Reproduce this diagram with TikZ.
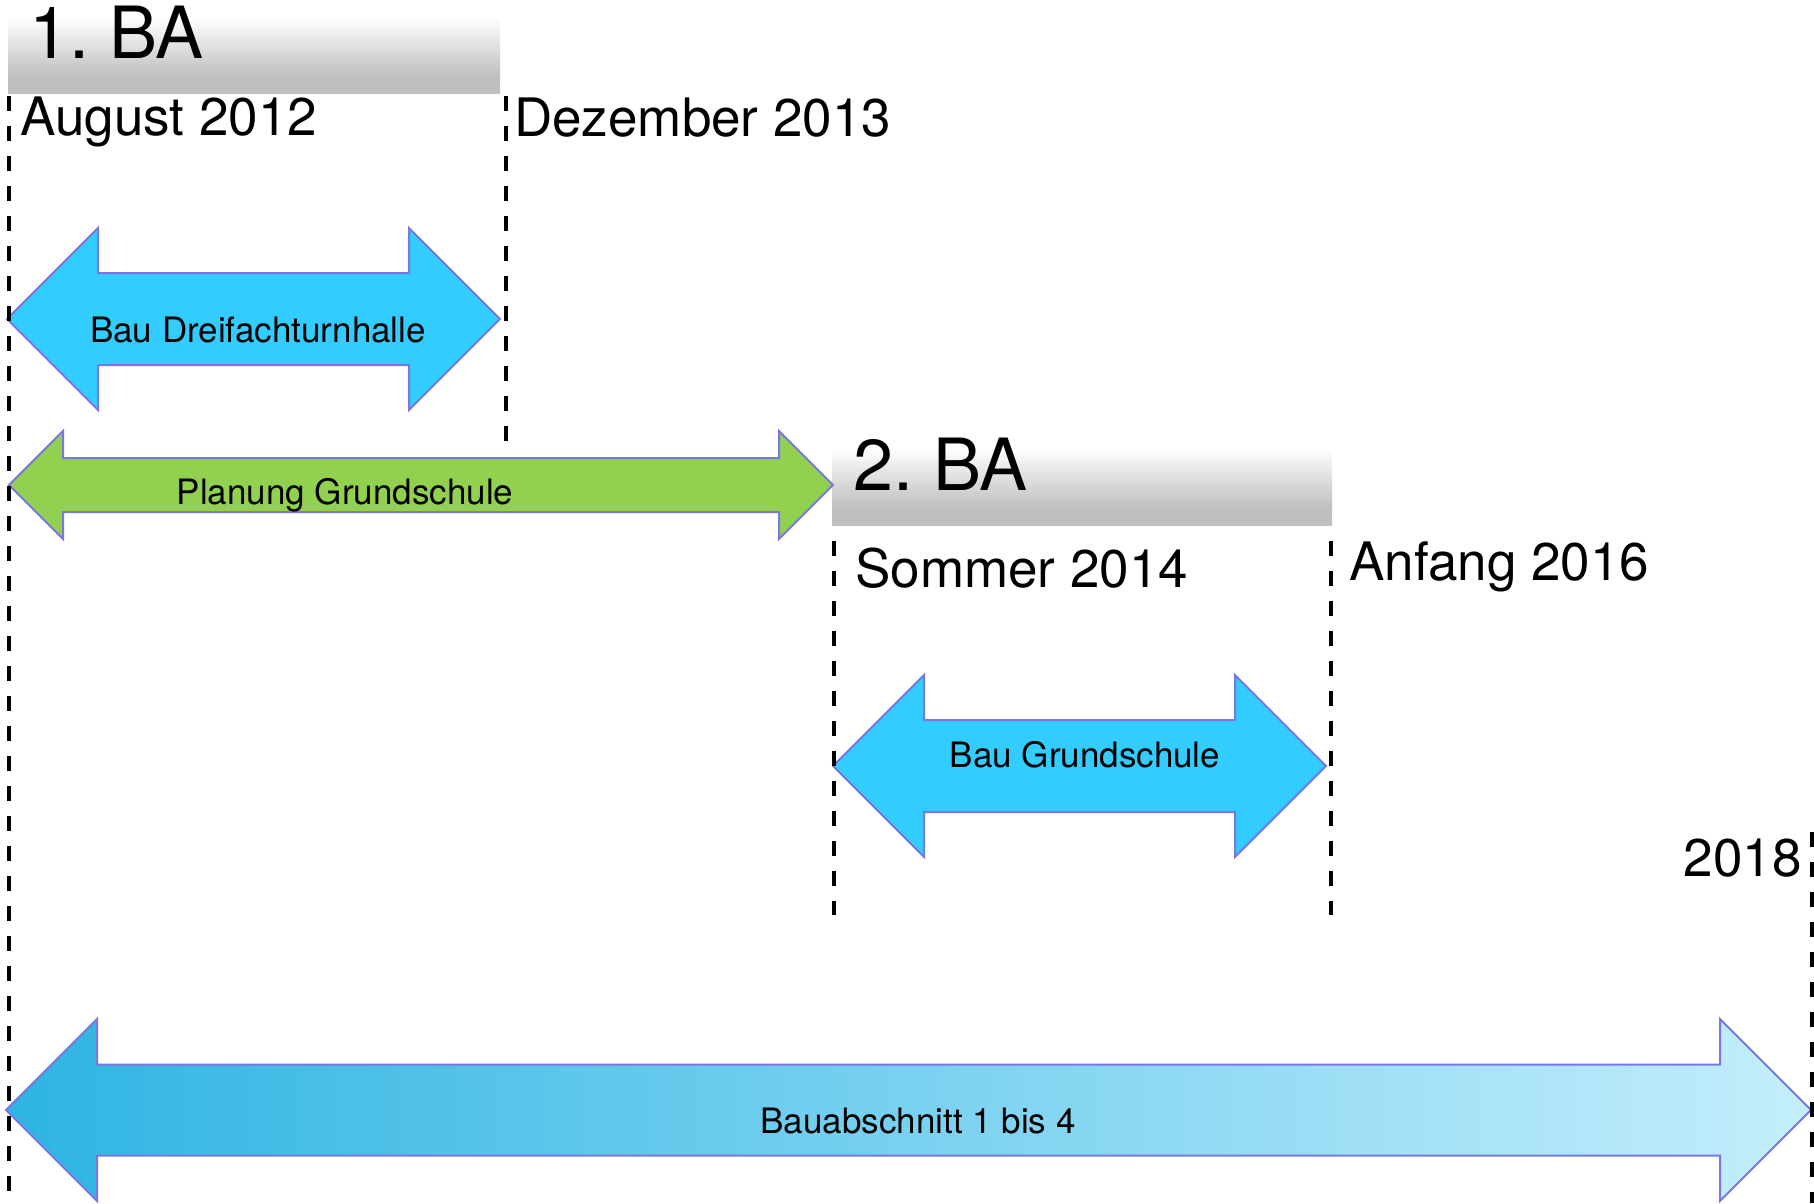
\documentclass[tikz,border=0pt]{standalone}
\usepackage{fontspec}
\setmainfont{TeX Gyre Heros}
\usetikzlibrary{calc}
\frenchspacing

\definecolor{baublue}{RGB}{51,204,255}
\definecolor{plangreen}{RGB}{146,208,80}
\definecolor{arrowline}{RGB}{120,120,224}
\definecolor{barbottom}{RGB}{191,191,191}
\definecolor{spanleft}{RGB}{46,180,227}
\definecolor{spanright}{RGB}{196,238,252}

\pgfdeclareverticalshading{phasefade}{100bp}{color(0bp)=(barbottom); color(36bp)=(barbottom); color(75bp)=(white); color(100bp)=(white)}

% [style]{x left}{x right}{y}{head}{half shaft}
\newcommand{\fatarrow}[6][]{%
  \draw[arrowb,#1] (#2,#4) -- ++(#5,-#5) -- ++(0,#5-#6) -- (#3-#5,#4-#6) -- ++(0,#6-#5)
    -- (#3,#4) -- ++(-#5,#5) -- ++(0,#6-#5) -- (#2+#5,#4+#6) -- ++(0,#5-#6) -- cycle;}

\begin{document}
\begin{tikzpicture}[x=1pt,y=-1pt,
	arrowb/.style={
	  draw=arrowline,
	  line width=2pt
	},
	phasebar/.style={
	  shading=phasefade,
	  draw=none,
	  inner sep=0pt,
	  anchor=north west
	},
	phaselabel/.style={
	  font=\fontsize{72}{80}\selectfont,
	  inner sep=0pt,
	  anchor=base west
	},
	datelabel/.style={
	  phaselabel,
	  font=\fontsize{53}{60}\selectfont
	},
	arrowlabel/.style={
	  font=\fontsize{35}{42}\selectfont,
	  inner sep=0pt,
	  anchor=base
	},
	milestone/.style={
	  line width=3.6pt,
	  dash pattern=on 15pt off 15pt
	}]

	\useasboundingbox (0,0) rectangle (1814,1203);

	% Bauabschnitte
	\node[phasebar,minimum width=492pt,minimum height=76pt] (BarOne) at (8,17) {};
	\node[phasebar,minimum width=500pt,minimum height=78pt] (BarTwo) at (832,447) {};
	\node[phaselabel] (PhaseOne) at (29,58) {1. BA};
	\node[phaselabel] (PhaseTwo) at (853,490) {2. BA};

	% Termine
	\node[datelabel] (Aug2012) at (20,135) {August 2012};
	\node[datelabel] (Dez2013) at (514,136) {Dezember 2013};
	\node[datelabel] (Som2014) at (855,587) {Sommer 2014};
	\node[datelabel] (Anf2016) at (1349,580) {Anfang 2016};
	\node[datelabel,anchor=base east] (Year2018) at (1802,876) {2018};

	% Pfeile
	\fatarrow[fill=baublue]{7}{500}{319}{91}{46}
	\fatarrow[fill=plangreen]{9}{833}{485}{54}{27}
	\fatarrow[fill=baublue]{833}{1326}{766}{91}{46}
	\fatarrow[left color=spanleft,right color=spanright]{6}{1811}{1110}{91}{45.5}

	\node[arrowlabel] (Turnhalle) at (258,342) {Bau Dreifachturnhalle};
	\node[arrowlabel] (Planung) at (345,504) {Planung Grundschule};
	\node[arrowlabel] (Grundschule) at (1085,767) {Bau Grundschule};
	\node[arrowlabel] (Gesamt) at (918,1133) {Bauabschnitt 1 bis 4};

	\draw[milestone] (9,96) -- (9,1203);
	\draw[milestone] (506,96) -- (506,452);
	\draw[milestone] (834,541) -- (834,915);
	\draw[milestone] (1331,541) -- (1331,915);
	\draw[milestone] (1812,832) -- (1812,1203);
\end{tikzpicture}
\end{document}
